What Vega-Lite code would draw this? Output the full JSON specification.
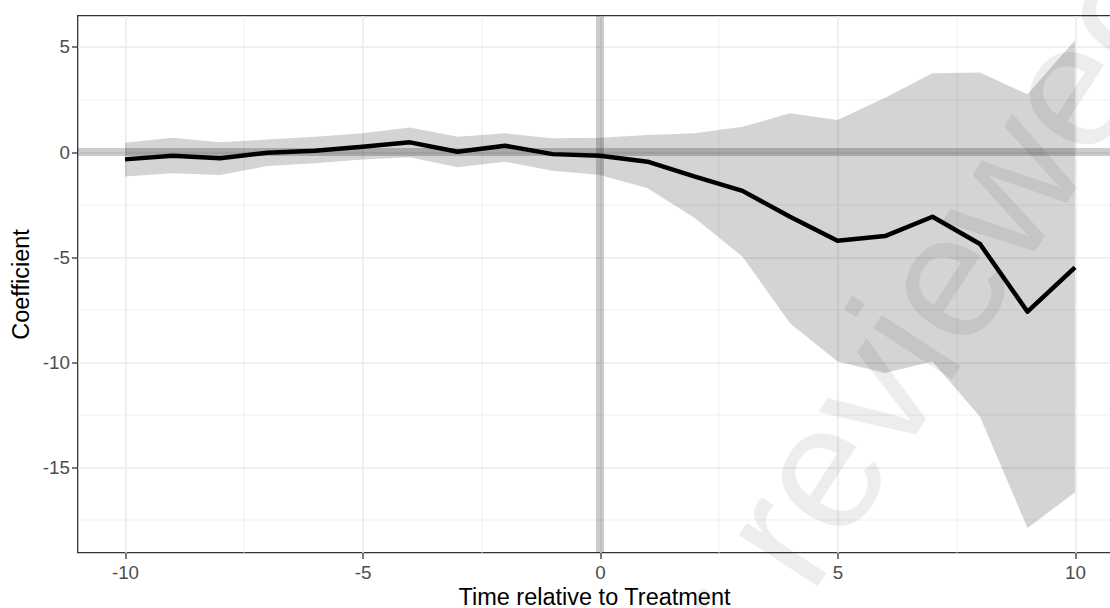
{
  "$schema": "https://vega.github.io/schema/vega-lite/v6.json",
  "width": 1033,
  "height": 537,
  "autosize": {"type": "none"},
  "padding": {"left": 77.5, "top": 15.5, "right": 0, "bottom": 55.5},
  "background": "white",
  "datasets": {
    "coefs": [
      {"t": -10, "coef": -0.35, "lo": -1.17, "hi": 0.44},
      {"t": -9, "coef": -0.18, "lo": -1.01, "hi": 0.68},
      {"t": -8, "coef": -0.30, "lo": -1.09, "hi": 0.46},
      {"t": -7, "coef": -0.03, "lo": -0.67, "hi": 0.60},
      {"t": -6, "coef": 0.06, "lo": -0.54, "hi": 0.73},
      {"t": -5, "coef": 0.25, "lo": -0.35, "hi": 0.89},
      {"t": -4, "coef": 0.46, "lo": -0.25, "hi": 1.17},
      {"t": -3, "coef": 0.01, "lo": -0.73, "hi": 0.73},
      {"t": -2, "coef": 0.30, "lo": -0.46, "hi": 0.89},
      {"t": -1, "coef": -0.10, "lo": -0.89, "hi": 0.65},
      {"t": 0, "coef": -0.18, "lo": -1.09, "hi": 0.68},
      {"t": 1, "coef": -0.46, "lo": -1.73, "hi": 0.81},
      {"t": 2, "coef": -1.17, "lo": -3.15, "hi": 0.89},
      {"t": 3, "coef": -1.85, "lo": -4.98, "hi": 1.20},
      {"t": 4, "coef": -3.08, "lo": -8.15, "hi": 1.84},
      {"t": 5, "coef": -4.22, "lo": -9.97, "hi": 1.52},
      {"t": 6, "coef": -4.00, "lo": -10.52, "hi": 2.58},
      {"t": 7, "coef": -3.08, "lo": -9.97, "hi": 3.75},
      {"t": 8, "coef": -4.38, "lo": -12.6, "hi": 3.78},
      {"t": 9, "coef": -7.60, "lo": -17.9, "hi": 2.75},
      {"t": 10, "coef": -5.49, "lo": -16.2, "hi": 5.32}
    ],
    "mark1": [{"wx": 4.44, "wy": -21.16, "label": "reviewed"}],
    "mark2": [{"wx": 3.87, "wy": -23.1, "label": "Preprint not peer"}]
  },
  "encoding": {
    "x": {
      "type": "quantitative",
      "scale": {"domain": [-11, 10.747], "nice": false, "zero": false},
      "axis": {
        "title": "Time relative to Treatment",
        "values": [-10, -7.5, -5, -2.5, 0, 2.5, 5, 7.5, 10],
        "labelExpr": "datum.value % 5 === 0 ? '' + datum.value : ''",
        "tickOpacity": {"condition": {"test": "datum.value % 5 !== 0", "value": 0}, "value": 1},
        "gridWidth": {"condition": {"test": "datum.value % 5 === 0", "value": 1.6}, "value": 0.8},
        "labelPadding": 5,
        "titlePadding": 3,
        "labelFlush": false
      }
    },
    "y": {
      "type": "quantitative",
      "scale": {"domain": [-19.064, 6.499], "nice": false, "zero": false},
      "axis": {
        "title": "Coefficient",
        "values": [-17.5, -15, -12.5, -10, -7.5, -5, -2.5, 0, 2.5, 5],
        "labelExpr": "datum.value % 5 === 0 ? '' + datum.value : ''",
        "tickOpacity": {"condition": {"test": "datum.value % 5 !== 0", "value": 0}, "value": 1},
        "gridWidth": {"condition": {"test": "datum.value % 5 === 0", "value": 1.6}, "value": 0.8},
        "labelPadding": 2,
        "titlePadding": 9,
        "labelFlush": false
      }
    }
  },
  "layer": [
    {
      "data": {"name": "coefs"},
      "mark": {"type": "area", "color": "#000000", "opacity": 0.17},
      "encoding": {
        "x": {"field": "t", "type": "quantitative"},
        "y": {"field": "lo", "type": "quantitative"},
        "y2": {"field": "hi"}
      }
    },
    {
      "data": {"values": [{}]},
      "mark": {"type": "rule", "color": "#000000", "opacity": 0.2, "strokeWidth": 8},
      "encoding": {"y": {"datum": 0, "type": "quantitative"}}
    },
    {
      "data": {"values": [{}]},
      "mark": {"type": "rule", "color": "#000000", "opacity": 0.2, "strokeWidth": 8},
      "encoding": {"x": {"datum": 0, "type": "quantitative"}}
    },
    {
      "data": {"name": "coefs"},
      "mark": {"type": "line", "color": "#000000", "strokeWidth": 4.5, "strokeJoin": "round"},
      "encoding": {
        "x": {"field": "t", "type": "quantitative"},
        "y": {"field": "coef", "type": "quantitative"}
      }
    },
    {
      "data": {"name": "mark1"},
      "mark": {"type": "text", "align": "left", "baseline": "alphabetic", "angle": -57, "font": "Liberation Sans", "fontSize": 178, "color": "#000000", "opacity": 0.065},
      "encoding": {
        "x": {"field": "wx", "type": "quantitative"},
        "y": {"field": "wy", "type": "quantitative"},
        "text": {"field": "label"}
      }
    },
    {
      "data": {"name": "mark2"},
      "mark": {"type": "text", "align": "right", "baseline": "alphabetic", "angle": -57, "font": "Liberation Sans", "fontSize": 178, "color": "#000000", "opacity": 0.065},
      "encoding": {
        "x": {"field": "wx", "type": "quantitative"},
        "y": {"field": "wy", "type": "quantitative"},
        "text": {"field": "label"}
      }
    }
  ],
  "config": {
    "view": {"stroke": "#333333", "strokeWidth": 1.3},
    "axis": {
      "domain": false,
      "gridColor": "#ebebeb",
      "tickColor": "#333333",
      "tickWidth": 1.3,
      "tickSize": 6,
      "labelFont": "Liberation Sans",
      "labelFontSize": 18.8,
      "labelColor": "#4d4d4d",
      "titleFont": "Liberation Sans",
      "titleFontSize": 23.5,
      "titleFontWeight": "normal",
      "titleColor": "#000000"
    }
  }
}
